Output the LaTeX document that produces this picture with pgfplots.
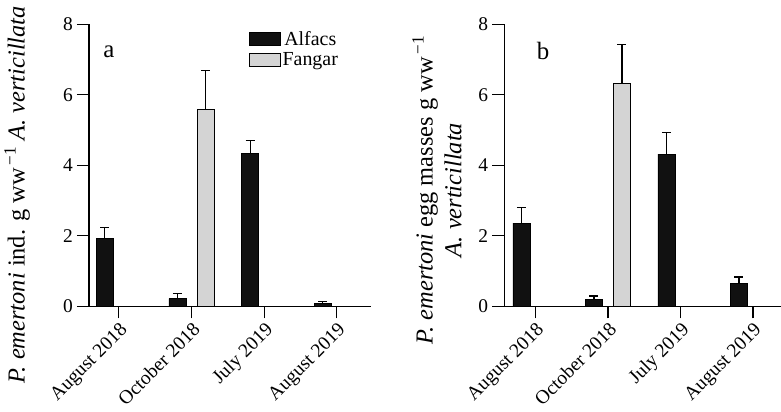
\documentclass[border=0pt]{standalone}
\usepackage{pgfplots}
\pgfplotsset{compat=1.18}
\usepackage{pgfplotstable}
\usepackage{fontspec}
\setmainfont{Liberation Serif}
\definecolor{barblack}{HTML}{111111}
\definecolor{bargray}{HTML}{D4D4D4}

% x  value  err
\pgfplotstableread{
x y e
0 1.92 0.31
1 0.22 0.14
2 4.33 0.37
3 0.07 0.07
}\alfA
\pgfplotstableread{
x y e
1 5.59 1.09
}\fangA
\pgfplotstableread{
x y e
0 2.36 0.44
1 0.19 0.10
2 4.32 0.61
3 0.65 0.18
}\alfB
\pgfplotstableread{
x y e
1 6.31 1.11
}\fangB

\pgfplotsset{
  panel/.style={
    scale only axis, height=282bp,
    axis x line=bottom, axis y line=left, axis line style={-, line width=1.1bp, black},
    ymin=0, ymax=8, ytick={0,2,4,6,8},
    xtick={0,1,2,3},
    xticklabels={August 2018, October 2018, July 2019, August 2019},
    xticklabel style={rotate=45, anchor=north east, inner sep=2bp, font=\fontsize{19.5}{23}\selectfont},
    yticklabel style={font=\fontsize{19.5}{23}\selectfont, inner sep=4bp},
    tick align=outside, major tick length=12bp,
    tick style={line width=1.1bp, black},
    /pgf/number format/assume math mode=true,
    ybar, bar width=17bp,
    clip=false,
    error bars/y dir=plus, error bars/y explicit,
    error bars/error bar style={line width=1.2bp, black},
    error bars/error mark options={line width=1.2bp, mark size=4.5bp, rotate=90, black},
  },
  alf/.style={fill=barblack, draw=black, line width=0.8bp, bar shift=-14bp},
  fan/.style={fill=bargray, draw=black, line width=0.8bp, bar shift=14bp},
}

\begin{document}
\begin{tikzpicture}
\useasboundingbox (0bp,0bp) rectangle (781bp,412bp);

\begin{axis}[panel, at={(89bp,105.7bp)}, anchor=south west, width=282bp,
  xmin=-0.41, xmax=3.47,
  legend style={at={(axis description cs:0.555,0.99)}, anchor=north west, draw=none, fill=none,
    font=\fontsize{20}{24}\selectfont, row sep=2bp,
    /tikz/every even column/.append style={column sep=2bp}},
  legend image code/.code={\draw[#1, line width=0.9bp] (0bp,-6.5bp) rectangle (31bp,6.5bp);},
]
\addplot[alf] table[x=x, y=y, y error=e] {\alfA};
\addplot[fan] table[x=x, y=y, y error=e] {\fangA};
\legend{Alfacs, Fangar}
\end{axis}

\begin{axis}[panel, at={(504.3bp,105.7bp)}, anchor=south west, width=290bp,
  xmin=-0.43, xmax=3.57,
]
\addplot[alf] table[x=x, y=y, y error=e] {\alfB};
\addplot[fan] table[x=x, y=y, y error=e] {\fangB};
\end{axis}

\node[font=\fontsize{25}{30}\selectfont] at (109bp,360bp) {a};
\node[font=\fontsize{25}{30}\selectfont] at (543bp,361bp) {b};

\node[rotate=90, font=\fontsize{24.5}{29}\selectfont] at (17bp,217bp)
  {\textit{P. emertoni} ind. g ww\textsuperscript{\,−1} \textit{A. verticillata}};
\node[rotate=90, font=\fontsize{24.5}{29}\selectfont] at (425bp,222bp)
  {\textit{P. emertoni} egg masses g ww\textsuperscript{\,−1}};
\node[rotate=90, font=\fontsize{24.5}{29}\selectfont] at (453bp,222bp)
  {\textit{A. verticillata}};
\end{tikzpicture}
\end{document}
